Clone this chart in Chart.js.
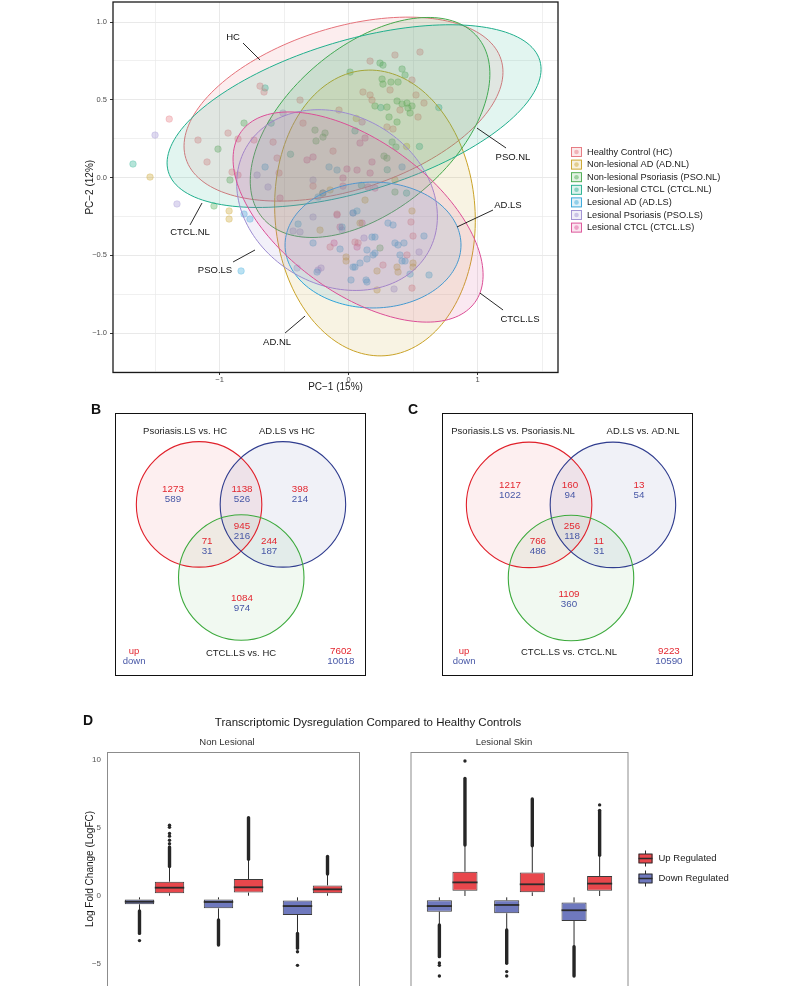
<!DOCTYPE html>
<html>
<head>
<meta charset="utf-8">
<title>Figure</title>
<script src="https://cdn.jsdelivr.net/npm/chart.js@4.4.1/dist/chart.umd.min.js"></script>
<style>
  body { margin: 0; background: #fff; }
  #figure { position: relative; width: 808px; height: 986px; overflow: hidden; background: #fff; }
  #figure canvas { position: absolute; }
</style>
</head>
<body>
<div id="figure">
  <canvas id="pcaChart" width="808" height="400" style="left:0;top:0;width:808px;height:400px"></canvas>
  <canvas id="vennB" width="300" height="285" style="left:80px;top:400px;width:300px;height:285px"></canvas>
  <canvas id="vennC" width="300" height="285" style="left:400px;top:400px;width:300px;height:285px"></canvas>
  <canvas id="boxNL" width="808" height="286" style="left:0;top:700px;width:808px;height:286px"></canvas>
  <canvas id="boxLS" width="808" height="286" style="left:0;top:700px;width:808px;height:286px"></canvas>
</div>
<script>
// ---------- A: PCA ----------
const pcaGroups = ['HC', 'AD.NL', 'PSO.NL', 'CTCL.NL', 'AD.LS', 'PSO.LS', 'CTCL.LS'];
const pcaLegendLabels = ['Healthy Control (HC)', 'Non-lesional AD (AD.NL)', 'Non-lesional Psoriasis (PSO.NL)',
  'Non-lesional CTCL (CTCL.NL)', 'Lesional AD (AD.LS)', 'Lesional Psoriasis (PSO.LS)', 'Lesional CTCL (CTCL.LS)'];
const pcaColors = ['#E5727A', '#C9A227', '#46A84A', '#1FAE8C', '#2FA4D8', '#9B8BD0', '#DB4E96'];
const pcaXRange = [-1.826, 1.624];
const pcaYRange = [-1.254, 1.129];

const pcaPointsHC = [[-1.39,0.376],[-1.167,0.241],[-1.097,0.10],[-0.934,0.286],[-0.857,0.248],[-0.733,0.241],[-0.903,0.035],[-0.857,0.016],[-0.686,0.588],[-0.655,0.55],[-0.585,0.228],[-0.554,0.125],[-0.539,0.029],[-0.376,0.498],[-0.353,0.35],[-0.074,0.434],[0.112,0.55],[0.167,0.531],[0.182,0.498],[0.167,0.749],[0.36,0.788],[0.554,0.807],[0.492,0.627],[0.322,0.563],[0.523,0.531],[0.585,0.479],[0.399,0.434],[0.539,0.389],[0.298,0.325],[0.345,0.312],[-0.12,0.17],[-0.275,-0.055],[-0.089,-0.235],[0.484,-0.286],[0.5,-0.376],[-0.143,-0.447],[0.453,-0.498],[0.267,-0.563],[0.492,-0.711],[0.05,-0.415],[0.074,-0.421]];
const pcaPointsADNL = [[-1.539,0.003],[-0.926,-0.215],[-0.926,-0.267],[-0.221,-0.338],[-0.019,-0.511],[0.089,-0.293],[0.221,-0.601],[0.376,-0.576],[0.384,-0.608],[0.5,-0.55],[0.5,-0.576],[0.221,-0.723],[-0.019,-0.537],[0.492,-0.215],[-0.143,-0.08],[0.36,-0.016],[0.128,-0.145],[0.06,0.38],[0.45,0.2]];
const pcaPointsPSONL = [[-1.012,0.183],[-1.043,-0.183],[-0.919,-0.016],[-0.81,0.35],[-0.26,0.305],[-0.252,0.235],[-0.182,0.286],[-0.198,0.26],[0.012,0.678],[0.244,0.736],[0.267,0.723],[0.415,0.698],[0.438,0.659],[0.26,0.633],[0.267,0.601],[0.329,0.614],[0.384,0.614],[0.376,0.492],[0.415,0.473],[0.453,0.479],[0.492,0.46],[0.205,0.46],[0.298,0.453],[0.461,0.447],[0.477,0.415],[0.314,0.389],[0.376,0.357],[0.338,0.228],[0.368,0.196],[0.275,0.138],[0.298,0.125],[0.36,-0.093],[0.244,-0.453]];
const pcaPointsCTCLNL = [[-1.671,0.087],[-0.647,0.576],[-0.45,0.15],[0.05,0.3],[0.3,0.05],[0.55,0.2],[-0.2,-0.1],[0.1,-0.05],[0.45,-0.1],[0.25,0.45],[-0.6,0.35],[0.7,0.45]];
const pcaPointsADLS = [[-0.81,-0.235],[-0.764,-0.267],[-0.833,-0.601],[-0.647,0.068],[-0.391,-0.299],[-0.275,-0.421],[-0.05,-0.318],[0.035,-0.228],[0.066,-0.215],[0.306,-0.293],[0.345,-0.305],[0.585,-0.376],[0.182,-0.383],[0.205,-0.383],[-0.066,-0.46],[0.143,-0.466],[0.205,-0.486],[0.36,-0.421],[0.384,-0.434],[0.43,-0.421],[0.399,-0.498],[0.089,-0.55],[0.143,-0.524],[0.05,-0.576],[0.415,-0.537],[0.438,-0.537],[0.477,-0.621],[0.624,-0.627],[-0.244,-0.608],[0.019,-0.659],[0.136,-0.659],[0.143,-0.672],[0.035,-0.576],[0.19,-0.498],[-0.089,0.048],[0.415,0.068],[-0.151,0.068],[-0.236,-0.125]];
const pcaPointsPSOLS = [[-1.5,0.273],[-1.33,-0.17],[-0.709,0.016],[-0.624,-0.061],[-0.508,0.415],[-0.275,-0.016],[-0.43,-0.344],[-0.376,-0.35],[0.12,-0.389],[-0.05,-0.338],[0.547,-0.479],[-0.213,-0.582],[-0.236,-0.595],[0.353,-0.717],[-0.399,-0.582],[-0.275,-0.254],[0.035,-0.228]];
const pcaPointsCTCLLS = [[-0.112,-0.421],[-0.089,-0.241],[-0.066,-0.318],[0.105,-0.293],[0.066,-0.447],[-0.043,-0.003],[0.167,0.029],[0.182,0.1],[-0.012,0.055],[0.066,0.048],[-0.275,0.132],[-0.322,0.113],[0.128,0.254],[0.089,0.222],[0.105,0.357],[-0.043,-0.055],[0.151,-0.061],[0.205,-0.068],[-0.198,-0.1],[-0.531,-0.132]];
const pcaPoints = [pcaPointsHC, pcaPointsADNL, pcaPointsPSONL, pcaPointsCTCLNL, pcaPointsADLS, pcaPointsPSOLS, pcaPointsCTCLLS];

// 95% ellipses: centre + the two semi-axis vectors (PC-1, PC-2 units)
const pcaEllipseCenters = [[-0.039,0.44],[0.205,-0.228],[0.167,0.322],[0.043,0.395],[0.19,-0.434],[-0.089,-0.145],[0.074,-0.254]];
const pcaEllipseAxisA = [[1.222,0.318],[0.078,-0.918],[0.834,0.581],[1.44,0.358],[0.682,0],[0.705,-0.338],[0.905,-0.55]];
const pcaEllipseAxisB = [[0.188,-0.499],[0.774,0.045],[0.409,-0.404],[0.168,-0.466],[0,-0.405],[-0.329,-0.473],[-0.347,-0.393]];

// ---------- B / C: Venn ----------
const vennBSets = ['Psoriasis.LS vs. HC', 'AD.LS vs HC', 'CTCL.LS vs. HC'];
const vennBCenters = [[3.35,6.85],[6.69,6.85],[5.03,3.93]];
const vennBUp = [1273, 1138, 398, 945, 71, 244, 1084];
const vennBDown = [589, 526, 214, 216, 31, 187, 974];
const vennBTotals = [7602, 10018];

const vennCSets = ['Psoriasis.LS vs. Psoriasis.NL', 'AD.LS vs. AD.NL', 'CTCL.LS vs. CTCL.NL'];
const vennCCenters = [[3.47,6.83],[6.81,6.83],[5.14,3.91]];
const vennCUp = [1217, 160, 13, 256, 766, 11, 1109];
const vennCDown = [1022, 94, 54, 118, 486, 31, 360];
const vennCTotals = [9223, 10590];
const vennRadius = 2.5;

// ---------- D: box plots ----------
const boxCategories = ['AD', 'Psoriasis', 'CTCL'];
// [whisker low, q1, median, q3, whisker high]
const boxDownNL = [[-1.1,-0.61,-0.42,-0.25,-0.1],[-1.76,-0.91,-0.44,-0.25,-0.1],[-2.75,-1.4,-0.74,-0.34,-0.1]];
const boxUpNL = [[0.02,0.2,0.61,1.05,2.16],[0.02,0.25,0.64,1.25,2.7],[0.02,0.2,0.49,0.78,1.62]];
const boxDownLS = [[-2.13,-1.15,-0.74,-0.32,-0.1],[-2.5,-1.27,-0.66,-0.32,-0.1],[-3.73,-1.84,-1.05,-0.47,-0.1]];
const boxUpLS = [[0,0.39,1.0,1.79,3.75],[0,0.27,0.86,1.72,3.7],[0,0.39,0.91,1.47,3.0]];
// dense runs of outliers [from, to] and single outliers
const outlierRunDownNL = [[-1.1,-2.75],[-1.76,-3.6],[-2.75,-3.85]];
const outlierRunUpNL = [[2.16,3.6],[2.7,5.75],[1.62,2.9]];
const outlierRunDownLS = [[-2.13,-4.46],[-2.5,-4.95],[-3.73,-5.88]];
const outlierRunUpLS = [[3.75,8.65],[3.7,7.13],[3.0,6.3]];
const outlierDownNL = [[-3.28],[],[-4.1,-5.1]];
const outlierUpNL = [[3.85,4.1,4.4,4.6,5.05,5.2],[],[]];
const outlierDownLS = [[-4.93,-5.1,-5.88],[-5.56,-5.88],[]];
const outlierUpLS = [[9.93],[],[6.7]];
const boxYRange = [-6.62, 10.59];

const FONT = '"Liberation Sans", Arial, Helvetica, sans-serif';
Chart.defaults.font.family = FONT;
Chart.defaults.animation = false;
Chart.defaults.layout.autoPadding = false;
Chart.defaults.plugins.legend.display = false;
Chart.defaults.plugins.tooltip.enabled = false;

function rgba(hex, a) {
    const n = parseInt(hex.slice(1), 16);
    return `rgba(${(n >> 16) & 255}, ${(n >> 8) & 255}, ${n & 255}, ${a})`;
}
const minus = s => String(s).replace('-', '\u2212');
const isStep = (v, step) => Math.abs(v / step - Math.round(v / step)) < 1e-6;
// fija el tamaño del eje y quita el margen que añade para las etiquetas
const fixScale = (w, h) => s => {
    if (w !== null) s.width = w;
    if (h !== null) s.height = h;
    s.paddingTop = s.paddingBottom = s.paddingLeft = s.paddingRight = 0;
};

function drawText(ctx, text, x, y, o = {}) {
    ctx.save();
    ctx.font = `${o.weight || 'normal'} ${o.size || 9}px ${FONT}`;
    ctx.fillStyle = o.color || '#222';
    ctx.textAlign = o.align || 'center';
    ctx.textBaseline = 'middle';
    ctx.fillText(text, x, y);
    ctx.restore();
}

// ellipses, labels, legend and frame of the PCA panel
const pcaDecorPlugin = {
    id: 'pcaDecor',
    afterDatasetsDraw(chart, args, opts) {
        const { ctx, chartArea: a, scales: { x, y } } = chart;
        ctx.save();
        ctx.beginPath();
        ctx.rect(a.left, a.top, a.right - a.left, a.bottom - a.top);
        ctx.clip();
        pcaGroups.forEach((g, i) => {
            const c = pcaEllipseCenters[i], u = pcaEllipseAxisA[i], v = pcaEllipseAxisB[i];
            ctx.beginPath();
            for (let k = 0; k <= 160; k++) {
                const t = k / 160 * Math.PI * 2;
                const px = x.getPixelForValue(c[0] + u[0] * Math.cos(t) + v[0] * Math.sin(t));
                const py = y.getPixelForValue(c[1] + u[1] * Math.cos(t) + v[1] * Math.sin(t));
                if (k === 0) ctx.moveTo(px, py); else ctx.lineTo(px, py);
            }
            ctx.closePath();
            ctx.fillStyle = rgba(pcaColors[i], 0.13);
            ctx.fill();
            ctx.strokeStyle = pcaColors[i];
            ctx.lineWidth = 1;
            ctx.stroke();
        });
        // etiquetas de cada grupo
        opts.labels.forEach(l => {
            ctx.beginPath();
            ctx.moveTo(x.getPixelForValue(l.from[0]), y.getPixelForValue(l.from[1]));
            ctx.lineTo(x.getPixelForValue(l.to[0]), y.getPixelForValue(l.to[1]));
            ctx.strokeStyle = '#111';
            ctx.lineWidth = 0.9;
            ctx.stroke();
            drawText(ctx, l.text, x.getPixelForValue(l.at[0]), y.getPixelForValue(l.at[1]), { size: 9.5, color: '#111' });
        });
        ctx.restore();

        ctx.save();
        ctx.strokeStyle = '#1a1a1a';
        ctx.lineWidth = 1.3;
        ctx.strokeRect(a.left, a.top, a.right - a.left, a.bottom - a.top);
        ctx.restore();

        // leyenda
        pcaLegendLabels.forEach((label, i) => {
            const cy = opts.legendTop + i * 12.6;
            const kx = a.right + 13;
            ctx.save();
            ctx.fillStyle = rgba(pcaColors[i], 0.15);
            ctx.fillRect(kx, cy - 5, 11, 10);
            ctx.strokeStyle = pcaColors[i];
            ctx.lineWidth = 0.9;
            ctx.strokeRect(kx + 0.5, cy - 4.5, 10, 9);
            ctx.beginPath();
            ctx.arc(kx + 5.5, cy, 2.3, 0, Math.PI * 2);
            ctx.fillStyle = rgba(pcaColors[i], 0.45);
            ctx.fill();
            ctx.restore();
            drawText(ctx, label, kx + 16, cy, { size: 9.2, align: 'left', color: '#1a1a1a' });
        });
    }
};

new Chart(document.getElementById('pcaChart'), {
    type: 'scatter',
    data: {
        datasets: pcaGroups.map((g, i) => ({
            label: g,
            data: pcaPoints[i].map(p => ({ x: p[0], y: p[1] })),
            backgroundColor: rgba(pcaColors[i], 0.33),
            borderColor: rgba(pcaColors[i], 0.45),
            borderWidth: 0.6,
            pointRadius: 3.3
        }))
    },
    options: {
        responsive: false,
        layout: { padding: { left: 80, top: 2, right: 250, bottom: 0 } },
        scales: {
            x: {
                type: 'linear', min: pcaXRange[0], max: pcaXRange[1],
                afterFit: fixScale(null, 27.5),
                border: { display: false },
                grid: {
                    color: '#e9e9e9',
                    lineWidth: c => isStep(c.tick.value, 1) ? 1 : 0.7,
                    tickLength: 2.5,
                    tickColor: c => isStep(c.tick.value, 1) ? '#333' : 'rgba(0,0,0,0)'
                },
                ticks: {
                    stepSize: 0.5, includeBounds: false, maxRotation: 0, autoSkip: false, padding: 0,
                    color: '#4d4d4d', font: { size: 7.5 },
                    callback: v => isStep(v, 1) ? minus(Math.round(v)) : ''
                },
                title: { display: true, text: 'PC\u22121 (15%)', color: '#1a1a1a', font: { size: 10 }, padding: { top: 0, bottom: 7 } }
            },
            y: {
                type: 'linear', min: pcaYRange[0], max: pcaYRange[1],
                afterFit: fixScale(33, null),
                border: { display: false },
                grid: {
                    color: '#e9e9e9',
                    lineWidth: c => isStep(c.tick.value, 0.5) ? 1 : 0.7,
                    tickLength: 3,
                    tickColor: c => isStep(c.tick.value, 0.5) ? '#333' : 'rgba(0,0,0,0)'
                },
                ticks: {
                    stepSize: 0.25, includeBounds: false, autoSkip: false, padding: 3,
                    color: '#4d4d4d', font: { size: 7.5 },
                    callback: v => isStep(v, 0.5) ? minus(v.toFixed(1)) : ''
                },
                title: { display: true, text: 'PC\u22122 (12%)', color: '#1a1a1a', font: { size: 10 }, padding: { top: 4, bottom: 0 } }
            }
        },
        plugins: {
            pcaDecor: {
                legendTop: 152,
                labels: [
                    { text: 'HC', at: [-0.895, 0.904], from: [-0.818, 0.865], to: [-0.686, 0.756] },
                    { text: 'PSO.NL', at: [1.275, 0.132], from: [1.221, 0.19], to: [0.996, 0.318] },
                    { text: 'CTCL.NL', at: [-1.229, -0.35], from: [-1.229, -0.305], to: [-1.136, -0.164] },
                    { text: 'PSO.LS', at: [-1.035, -0.595], from: [-0.895, -0.543], to: [-0.725, -0.466] },
                    { text: 'AD.NL', at: [-0.554, -1.058], from: [-0.492, -1.0], to: [-0.337, -0.891] },
                    { text: 'AD.LS', at: [1.236, -0.177], from: [1.12, -0.209], to: [0.841, -0.318] },
                    { text: 'CTCL.LS', at: [1.329, -0.91], from: [1.198, -0.852], to: [1.019, -0.743] }
                ]
            }
        }
    },
    plugins: [pcaDecorPlugin]
});

// ---------- Venn ----------
const vennRed = '#E3262F';
const vennBlue = '#4757A6';
const vennCircleColors = ['#E0202A', '#303D8F', '#3DAA3D'];

const vennPlugin = {
    id: 'venn',
    afterDatasetsDraw(chart, args, o) {
        const { ctx, chartArea: a, scales: { x, y } } = chart;
        const X = v => x.getPixelForValue(v), Y = v => y.getPixelForValue(v);
        ctx.save();
        o.centers.forEach((c, i) => {
            const r = X(c[0] + vennRadius) - X(c[0]);
            ctx.beginPath();
            ctx.arc(X(c[0]), Y(c[1]), r, 0, Math.PI * 2);
            ctx.fillStyle = rgba(vennCircleColors[i], 0.07);
            ctx.fill();
        });
        o.centers.forEach((c, i) => {
            const r = X(c[0] + vennRadius) - X(c[0]);
            ctx.beginPath();
            ctx.arc(X(c[0]), Y(c[1]), r, 0, Math.PI * 2);
            ctx.strokeStyle = vennCircleColors[i];
            ctx.lineWidth = 1.1;
            ctx.stroke();
        });
        ctx.strokeStyle = '#111';
        ctx.lineWidth = 1;
        ctx.strokeRect(a.left + 0.5, a.top + 0.5, a.right - a.left - 1, a.bottom - a.top - 1);
        ctx.restore();

        o.sets.forEach((s, i) => drawText(ctx, s, X(o.setPos[i][0]), Y(o.setPos[i][1]), { size: 9.5, color: '#222' }));
        o.up.forEach((n, i) => {
            const p = o.regionPos[i];
            drawText(ctx, String(n), X(p[0]), Y(p[1]) - 5, { size: 9.8, color: vennRed });
            drawText(ctx, String(o.down[i]), X(p[0]), Y(p[1]) + 5, { size: 9.8, color: vennBlue });
        });
        drawText(ctx, 'up', X(o.keyPos[0]), Y(o.keyPos[1]) - 5, { size: 9.5, color: vennRed });
        drawText(ctx, 'down', X(o.keyPos[0]), Y(o.keyPos[1]) + 5, { size: 9.5, color: vennBlue });
        drawText(ctx, String(o.totals[0]), X(o.totalPos[0]), Y(o.totalPos[1]) - 5, { size: 9.8, color: vennRed });
        drawText(ctx, String(o.totals[1]), X(o.totalPos[0]), Y(o.totalPos[1]) + 5, { size: 9.8, color: vennBlue });
        drawText(ctx, o.letter, a.left + o.letterDx, a.top - 3, { size: 14, weight: 'bold', color: '#111' });
    }
};

function vennChart(id, padding, opts) {
    return new Chart(document.getElementById(id), {
        type: 'scatter',
        data: { datasets: [{ data: opts.centers.map(c => ({ x: c[0], y: c[1] })), pointRadius: 0 }] },
        options: {
            responsive: false,
            layout: { padding },
            scales: {
                x: { type: 'linear', min: 0, max: 10, display: false },
                y: { type: 'linear', min: 0, max: 10.5, display: false }
            },
            plugins: { venn: opts }
        },
        plugins: [vennPlugin]
    });
}

vennChart('vennB', { left: 35, top: 13, right: 14, bottom: 9 }, {
    letter: 'B', letterDx: -19,
    sets: vennBSets, centers: vennBCenters, up: vennBUp, down: vennBDown, totals: vennBTotals,
    setPos: [[2.79, 9.78], [6.85, 9.78], [5.02, 0.92]],
    regionPos: [[2.31, 7.27], [5.06, 7.27], [7.37, 7.27], [5.06, 5.77], [3.67, 5.19], [6.14, 5.19], [5.06, 2.91]],
    keyPos: [0.76, 0.8], totalPos: [9.0, 0.8]
});

vennChart('vennC', { left: 42, top: 13, right: 7, bottom: 9 }, {
    letter: 'C', letterDx: -29,
    sets: vennCSets, centers: vennCCenters, up: vennCUp, down: vennCDown, totals: vennCTotals,
    setPos: [[2.83, 9.78], [8.01, 9.78], [5.06, 0.96]],
    regionPos: [[2.71, 7.43], [5.1, 7.43], [7.85, 7.43], [5.18, 5.77], [3.82, 5.17], [6.25, 5.17], [5.06, 3.05]],
    keyPos: [0.88, 0.8], totalPos: [9.04, 0.8]
});

// ---------- Box plots ----------
const upColor = '#E8474C';
const downColor = '#6F79BE';

const boxPlotPlugin = {
    id: 'boxPlot',
    afterDatasetsDraw(chart, args, o) {
        const { ctx, chartArea: a, scales: { y } } = chart;
        ctx.save();
        chart.data.datasets.forEach((ds, di) => {
            chart.getDatasetMeta(di).data.forEach((bar, i) => {
                const s = ds.stats[i];
                const half = bar.width / 2;
                ctx.strokeStyle = '#2b2b2b';
                ctx.lineWidth = 1;
                ctx.beginPath();
                ctx.moveTo(bar.x, y.getPixelForValue(s[3]));
                ctx.lineTo(bar.x, y.getPixelForValue(s[4]));
                ctx.moveTo(bar.x, y.getPixelForValue(s[1]));
                ctx.lineTo(bar.x, y.getPixelForValue(s[0]));
                ctx.stroke();
                ctx.lineWidth = 1.8;
                ctx.beginPath();
                ctx.moveTo(bar.x - half, y.getPixelForValue(s[2]));
                ctx.lineTo(bar.x + half, y.getPixelForValue(s[2]));
                ctx.stroke();
                // outliers
                const run = ds.outlierRuns[i];
                ctx.lineWidth = 3.4;
                ctx.lineCap = 'round';
                ctx.strokeStyle = '#262626';
                ctx.beginPath();
                ctx.moveTo(bar.x, y.getPixelForValue(run[0]));
                ctx.lineTo(bar.x, y.getPixelForValue(run[1]));
                ctx.stroke();
                ctx.lineCap = 'butt';
                ctx.fillStyle = '#262626';
                ds.outliers[i].forEach(v => {
                    ctx.beginPath();
                    ctx.arc(bar.x, y.getPixelForValue(v), 1.7, 0, Math.PI * 2);
                    ctx.fill();
                });
            });
        });
        // marco del panel
        ctx.strokeStyle = '#8c8c8c';
        ctx.lineWidth = 1;
        ctx.strokeRect(a.left - 7.5, a.top + 0.5, a.right - a.left + 15, a.bottom - a.top + 10);
        ctx.restore();
        drawText(ctx, o.strip, o.stripX, a.top - 10, { size: 9.5, color: '#333' });
        if (o.title) {
            drawText(ctx, 'D', 88, 21, { size: 14, weight: 'bold', color: '#111' });
            drawText(ctx, o.title, 368, 23, { size: 11.5, color: '#1a1a1a' });
        }
        if (o.legend) {
            o.legend.forEach((it, k) => {
                const cy = 158.5 + k * 20;
                const x0 = a.right + 18;
                ctx.save();
                ctx.strokeStyle = '#2b2b2b';
                ctx.lineWidth = 1;
                ctx.beginPath();
                ctx.moveTo(x0 + 7, cy - 8);
                ctx.lineTo(x0 + 7, cy + 8);
                ctx.stroke();
                ctx.fillStyle = it.color;
                ctx.fillRect(x0, cy - 4.5, 14, 9);
                ctx.strokeRect(x0 + 0.5, cy - 4.5, 13, 9);
                ctx.lineWidth = 1.5;
                ctx.beginPath();
                ctx.moveTo(x0, cy);
                ctx.lineTo(x0 + 14, cy);
                ctx.stroke();
                ctx.restore();
                drawText(ctx, it.label, x0 + 20, cy, { size: 9.5, align: 'left', color: '#1a1a1a' });
            });
        }
    }
};

function boxChart(id, padding, down, up, runsDown, runsUp, outDown, outUp, showAxis, extra) {
    const mk = (label, stats, color, runs, outs) => ({
        label, stats, outlierRuns: runs, outliers: outs,
        data: stats.map(s => [s[1], s[3]]),
        backgroundColor: color, borderColor: '#3a3a3a', borderWidth: 1, borderSkipped: false,
        categoryPercentage: 0.76, barPercentage: 0.98
    });
    return new Chart(document.getElementById(id), {
        type: 'bar',
        data: {
            labels: boxCategories,
            datasets: [mk('Down Regulated', down, downColor, runsDown, outDown), mk('Up Regulated', up, upColor, runsUp, outUp)]
        },
        options: {
            responsive: false,
            layout: { padding },
            scales: {
                x: { display: false },
                y: {
                    display: showAxis, min: boxYRange[0], max: boxYRange[1],
                    afterFit: fixScale(35, null),
                    border: { display: false },
                    grid: { display: false, drawTicks: false },
                    ticks: { stepSize: 5, includeBounds: false, padding: 14, color: '#555', font: { size: 8 }, callback: v => minus(v) },
                    title: { display: true, text: 'Log Fold Change (LogFC)', color: '#1a1a1a', font: { size: 10 }, padding: { top: 4, bottom: 0 } }
                }
            },
            plugins: { boxPlot: extra }
        },
        plugins: [boxPlotPlugin]
    });
}

boxChart('boxNL', { left: 80, top: 52, right: 456, bottom: 0 },
    boxDownNL, boxUpNL, outlierRunDownNL, outlierRunUpNL, outlierDownNL, outlierUpNL, true,
    { strip: 'Non Lesional', stripX: 227, title: 'Transcriptomic Dysregulation Compared to Healthy Controls' });

boxChart('boxLS', { left: 383.5, top: 52, right: 187.5, bottom: 0 },
    boxDownLS, boxUpLS, outlierRunDownLS, outlierRunUpLS, outlierDownLS, outlierUpLS, false,
    { strip: 'Lesional Skin', stripX: 504, legend: [{ label: 'Up Regulated', color: upColor }, { label: 'Down Regulated', color: downColor }] });
</script>
</body>
</html>
